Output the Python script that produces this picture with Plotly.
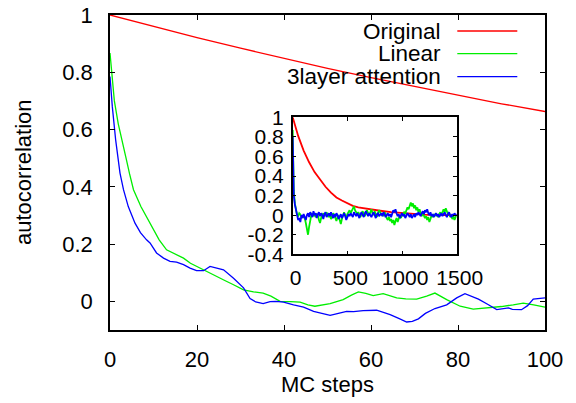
import plotly.graph_objects as go

# ---------------- data ----------------
series_names = ["Original", "Linear", "3layer attention"]
series_colors = ["#ff0000", "#00ee00", "#0000ff"]

# main panel (0..100 MC steps)
main_orig_x = [0, 10, 20, 30, 40, 50, 60, 70, 80, 90, 100]
main_orig_y = [1.0, 0.960, 0.921, 0.884, 0.848, 0.814, 0.781, 0.750, 0.719, 0.690, 0.663]

main_lin_x = [0, 1, 1.9, 2.8, 3.6, 4.5, 5.4, 7.1, 9.2, 11.3, 13.0, 15.0, 16.9, 18.5, 20.7,
              22.5, 24.5, 26.5, 28.4, 30.7, 33.0, 35.2, 37.0, 39.1, 41.5, 43.7, 45.5, 47.1,
              50.6, 53.6, 55.5, 57.1, 58.8, 60.5, 62.8, 65.9, 68.0, 70.5, 72.8, 74.7, 77.4,
              80.5, 83.5, 88.1, 90.0, 92.7, 95.0, 97.4, 100]
main_lin_y = [0.867, 0.70, 0.62, 0.564, 0.506, 0.445, 0.39, 0.331, 0.273, 0.215, 0.18, 0.165,
              0.151, 0.133, 0.116, 0.10, 0.087, 0.072, 0.058, 0.040, 0.033, 0.029, 0.018, 0.0,
              -0.001, -0.003, -0.012, -0.017, -0.008, 0.006, 0.022, 0.033, 0.028, 0.02, 0.027,
              0.012, 0.009, 0.008, 0.018, 0.029, 0.006, -0.017, -0.027, -0.021, -0.018, -0.012,
              -0.006, -0.012, -0.02]

main_att_x = [0, 0.53, 1.3, 2.3, 3.1, 4.2, 5.75, 7.0, 8.4, 9.2, 10.7, 12.3, 13.8, 15.3, 16.9,
              18.4, 19.9, 21.5, 23.0, 24.5, 26.1, 28.4, 30.7, 32.2, 33.5, 35.2, 36.8, 38.2,
              39.9, 42.2, 44.5, 46.8, 50.6, 52.5, 54.4, 56.0, 58.2, 61.3, 64.4, 66.5, 68.2,
              69.5, 70.9, 72.5, 74.7, 77.4, 79.7, 81.6, 84.7, 86.8, 88.9, 91.6, 92.5, 94.6,
              96.0, 97.3, 100]
main_att_y = [0.785, 0.68, 0.564, 0.448, 0.39, 0.331, 0.273, 0.24, 0.215, 0.204, 0.169, 0.151,
              0.14, 0.137, 0.128, 0.116, 0.107, 0.107, 0.122, 0.116, 0.11, 0.081, 0.047, 0.01,
              -0.002, -0.008, -0.001, 0.0, -0.003, -0.012, -0.02, -0.035, -0.049, -0.042,
              -0.035, -0.036, -0.032, -0.031, -0.046, -0.06, -0.072, -0.07, -0.061, -0.042,
              -0.025, -0.012, 0.012, 0.027, 0.008, -0.01, -0.029, -0.023, -0.028, -0.029,
              -0.015, 0.008, 0.012]

# inset panel (0..1500 MC steps)
inset_orig_x = [0, 50, 100, 150, 200, 250, 300, 350, 400, 450, 500, 550, 600, 700, 800,
                900, 1000, 1100, 1200, 1300, 1400, 1500]
inset_orig_y = [1.0, 0.81, 0.66, 0.54, 0.44, 0.36, 0.29, 0.23, 0.18, 0.15, 0.12, 0.095,
                0.08, 0.06, 0.045, 0.03, 0.02, 0.01, 0.005, 0.0, 0.0, 0.0]

inset_x = list(range(0, 1501, 10))
inset_lin_y = [
    0.87, 0.25, 0.12, 0.045, 0.0, -0.008, 0.02, 0.008, -0.02, -0.012, -0.02,
    -0.03, -0.08, -0.15, -0.2, -0.12, -0.04, 0.0, 0.02, -0.01, 0.01,
    -0.02, 0.01, 0.0, -0.05, -0.08, -0.03, 0.0, 0.02, -0.01, 0.01,
    0.03, 0.0, -0.02, 0.01, -0.04, -0.02, 0.02, 0.0, -0.03, -0.06,
    -0.02, 0.0, -0.05, -0.09, -0.04, 0.01, 0.03, 0.0, -0.02, 0.01,
    0.03, 0.05, 0.02, 0.04, 0.06, 0.09, 0.05, 0.03, 0.01, 0.03,
    0.0, -0.02, 0.02, 0.04, 0.01, -0.01, 0.03, 0.05, 0.02, 0.0,
    0.03, 0.06, 0.02, 0.0, 0.04, 0.01, -0.02, 0.02, 0.05, 0.03,
    0.0, 0.02, -0.01, 0.03, 0.01, -0.03, -0.05, -0.02, -0.06, -0.04,
    -0.08, -0.05, -0.1, -0.06, -0.03, -0.07, -0.02, 0.0, -0.03, 0.01,
    0.0, 0.03, 0.02, 0.05, 0.08, 0.06, 0.1, 0.13, 0.09, 0.12,
    0.07, 0.1, 0.05, 0.08, 0.03, 0.06, 0.02, -0.01, 0.02, 0.0,
    -0.03, -0.01, -0.05, -0.02, -0.07, -0.04, 0.0, -0.02, 0.01, -0.01,
    0.02, 0.0, -0.02, 0.01, 0.03, 0.0, 0.04, 0.06, 0.03, 0.07,
    0.04, 0.01, 0.03, -0.02, 0.0, -0.04, -0.01, -0.05, -0.02, -0.01,
]
inset_att_y = [
    0.8, 0.2, 0.107, 0.05, -0.003, -0.05, -0.03, -0.07, 0.0, -0.03, 0.012,
    -0.03, -0.05, 0.0, 0.02, -0.02, 0.03, 0.01, -0.02, 0.04, 0.0,
    0.02, -0.03, 0.01, 0.03, -0.01, 0.02, 0.0, -0.04, 0.01, 0.03,
    -0.02, 0.0, 0.02, -0.01, 0.03, 0.0, -0.03, 0.01, -0.02, 0.02,
    0.0, -0.04, -0.02, 0.01, -0.03, 0.0, 0.02, -0.01, -0.05, -0.02,
    0.01, -0.01, 0.02, 0.0, -0.02, 0.03, 0.01, -0.01, 0.02, 0.0,
    -0.03, 0.01, 0.03, 0.0, -0.02, 0.02, 0.04, 0.01, -0.01, 0.02,
    0.0, -0.02, 0.01, 0.03, 0.0, -0.03, 0.01, 0.02, -0.01, 0.0,
    0.02, -0.01, 0.03, 0.01, -0.02, 0.0, 0.02, -0.01, 0.01, -0.02,
    0.02, 0.05, 0.03, 0.06, 0.02, -0.01, 0.01, -0.03, 0.0, 0.02,
    -0.01, 0.01, -0.03, -0.01, 0.02, 0.0, -0.02, 0.01, -0.03, -0.01,
    0.01, -0.02, 0.02, 0.0, 0.03, 0.01, -0.01, 0.02, 0.04, 0.01,
    0.05, 0.03, 0.06, 0.02, 0.0, 0.03, -0.01, 0.01, -0.02, 0.0,
    0.02, -0.01, 0.01, -0.02, 0.0, 0.02, -0.01, 0.01, 0.03, 0.0,
    -0.02, 0.01, 0.03, 0.0, -0.02, 0.01, -0.01, 0.02, 0.0, 0.01,
]

main_xticks = [0, 20, 40, 60, 80, 100]
main_yticks = [0, 0.2, 0.4, 0.6, 0.8, 1]
main_ytick_labels = ["0", "0.2", "0.4", "0.6", "0.8", "1"]
inset_xticks = [0, 500, 1000, 1500]
inset_yticks = [-0.4, -0.2, 0, 0.2, 0.4, 0.6, 0.8, 1]
inset_ytick_labels = ["-0.4", "-0.2", "0", "0.2", "0.4", "0.6", "0.8", "1"]

x_label = "MC steps"
y_label = "autocorrelation"

# ---------------- figure ----------------
FONT = "Liberation Sans, Arial, Helvetica, sans-serif"
FS = 22
FS_INSET = 21
fig = go.Figure()

main_sets = [(main_orig_x, main_orig_y), (main_lin_x, main_lin_y), (main_att_x, main_att_y)]
for (xs, ys), name, col in zip(main_sets, series_names, series_colors):
    fig.add_trace(go.Scatter(x=xs, y=ys, mode="lines", name=name,
                             line=dict(color=col, width=1.3), showlegend=False,
                             xaxis="x", yaxis="y"))

inset_sets = [(inset_orig_x, inset_orig_y), (inset_x, inset_lin_y), (inset_x, inset_att_y)]
for (xs, ys), name, col in zip(inset_sets, series_names, series_colors):
    fig.add_trace(go.Scatter(x=xs, y=ys, mode="lines", name=name,
                             line=dict(color=col, width=1.8), showlegend=False,
                             xaxis="x2", yaxis="y2"))

L, R, T, B = 110, 31, 15, 73
W, H = 576, 403
pw, ph = W - L - R, H - T - B

def px_x(p):
    return (p - L) / pw

def px_y(p):
    return (H - B - p) / ph

def axis_style(size):
    return dict(showline=True, linecolor="black", linewidth=1.5, mirror="allticks",
                ticks="inside", tickcolor="black", showgrid=False, zeroline=False,
                automargin=False,
                tickfont=dict(family=FONT, size=size, color="black"))

fig.update_layout(
    template="none",
    width=W, height=H,
    margin=dict(l=L, r=R, t=T, b=B, pad=0, autoexpand=False),
    paper_bgcolor="white", plot_bgcolor="white",
    font=dict(family=FONT, size=FS, color="black"),
    xaxis=dict(range=[0, 100], tickvals=main_xticks, ticklen=5,
               ticklabelstandoff=9, domain=[0, 1], **axis_style(FS)),
    yaxis=dict(range=[-0.1, 1], tickvals=main_yticks, ticktext=main_ytick_labels,
               ticklen=5, ticklabelstandoff=11, domain=[0, 1], **axis_style(FS)),
    xaxis2=dict(range=[0, 1500], tickvals=inset_xticks, ticklen=4, anchor="y2",
                domain=[px_x(292.7), px_x(456.7)], ticklabelstandoff=4,
                ticklabelshift=3, **axis_style(FS_INSET)),
    yaxis2=dict(range=[-0.4, 1], tickvals=inset_yticks, ticktext=inset_ytick_labels,
                ticklen=4, anchor="x2", domain=[px_y(254.3), px_y(117.3)],
                ticklabelstandoff=3, **axis_style(FS_INSET)),
    showlegend=False,
)

# axis titles
fig.add_annotation(text=x_label, xref="paper", yref="paper", x=px_x(327), y=px_y(384),
                   xanchor="center", yanchor="middle", showarrow=False,
                   font=dict(family=FONT, size=FS, color="black"))
fig.add_annotation(text=y_label, xref="paper", yref="paper", x=px_x(23), y=px_y(172),
                   xanchor="center", yanchor="middle", textangle=-90, showarrow=False,
                   font=dict(family=FONT, size=FS, color="black"))

# gnuplot-style key: text right-aligned, sample line to the right
key_rows = [31, 53.7, 76.7]
for name, col, row in zip(series_names, series_colors, key_rows):
    fig.add_annotation(text=name, xref="paper", yref="paper", x=px_x(443), y=px_y(row),
                       xanchor="right", yanchor="middle", showarrow=False,
                       font=dict(family=FONT, size=22.5, color="black"))
    fig.add_shape(type="line", xref="paper", yref="paper",
                  x0=px_x(457.3), x1=px_x(517.3), y0=px_y(row), y1=px_y(row),
                  line=dict(color=col, width=1.3))

fig.write_html("out.html", config={"displayModeBar": False},
               post_script="document.body.style.margin='0px';")
